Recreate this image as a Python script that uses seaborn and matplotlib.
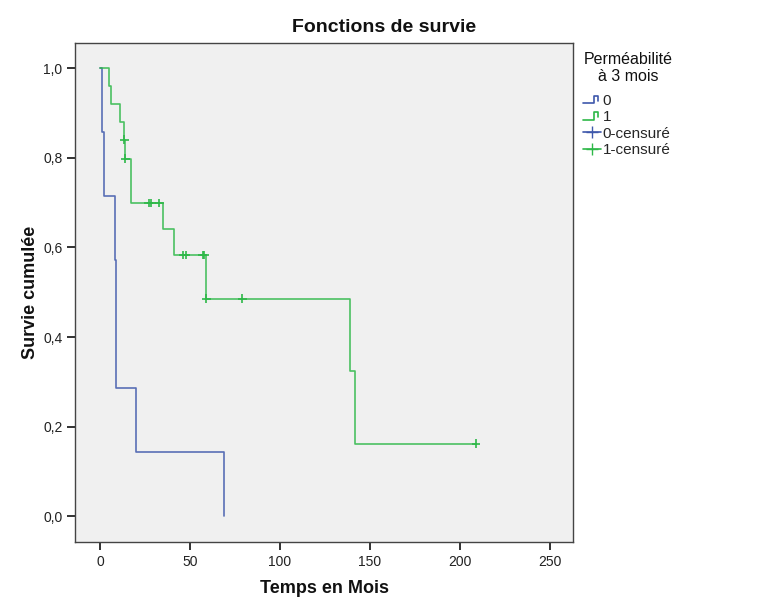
import numpy as np
import pandas as pd
import matplotlib
matplotlib.use("Agg")
import matplotlib.pyplot as plt
import seaborn as sns
from matplotlib.legend_handler import HandlerBase
from matplotlib.lines import Line2D
from matplotlib.ticker import FuncFormatter

# ---- data ----
times_0 = [0, 1, 2, 8, 9, 20, 69]
surv_0 = [1.0, 0.857, 0.714, 0.571, 0.286, 0.143, 0.0]

times_1 = [0, 5, 6, 11, 13, 14, 17, 35, 41, 59, 139, 142, 209]
surv_1 = [1.0, 0.96, 0.92, 0.88, 0.84, 0.798, 0.699, 0.641, 0.583, 0.486, 0.324, 0.162, 0.162]

cens_times_1 = [13.4, 14, 27, 28.5, 33, 46.3, 47.7, 57, 58, 59, 79, 209]
cens_surv_1 = [0.84, 0.798, 0.699, 0.699, 0.699, 0.583, 0.583, 0.583, 0.583, 0.486, 0.486, 0.162]

groups = ["0", "1"]
legend_labels = ["0", "1", "0-censuré", "1-censuré"]
x_ticks = [0, 50, 100, 150, 200, 250]
y_ticks = [0.0, 0.2, 0.4, 0.6, 0.8, 1.0]

title = "Fonctions de survie"
xlabel = "Temps en Mois"
ylabel = "Survie cumulée"
legend_title = "Perméabilité\nà 3 mois"

colors = {"0": "#3E58AC", "1": "#2EB848"}

# ---- build tables ----
steps = pd.concat([
    pd.DataFrame({"time": times_0, "surv": surv_0, "group": "0"}),
    pd.DataFrame({"time": times_1, "surv": surv_1, "group": "1"}),
], ignore_index=True)
cens = pd.DataFrame({"time": cens_times_1, "surv": cens_surv_1, "group": "1"})

sns.set_theme(style="ticks")
plt.rcParams["font.family"] = ["Liberation Sans", "DejaVu Sans"]

fig = plt.figure(figsize=(7.68, 6.15), dpi=100)
ax = fig.add_axes([75 / 768, 1 - 542 / 615, (573 - 75) / 768, (542 - 43) / 615])
ax.set_facecolor("#F0F0F0")

sns.lineplot(data=steps, x="time", y="surv", hue="group", palette=colors,
             drawstyle="steps-post", estimator=None, sort=False,
             linewidth=1.2, alpha=0.85, legend=False, ax=ax)
sns.scatterplot(data=cens, x="time", y="surv", hue="group", palette=colors,
                marker="+", s=40, linewidth=1.2, legend=False, ax=ax, zorder=3)

ax.set_xlim(-14, 263)
ax.set_ylim(-0.057, 1.056)
ax.set_xticks(x_ticks)
ax.set_yticks(y_ticks)
ax.yaxis.set_major_formatter(FuncFormatter(lambda v, p: f"{v:.1f}".replace(".", ",")))
ax.tick_params(axis="both", direction="out", length=6, width=1.3, color="#222222",
               labelsize=10, labelcolor="#222222", pad=3)
for sp in ax.spines.values():
    sp.set_visible(True)
    sp.set_color("#444444")
    sp.set_linewidth(1.0)

ax.set_xlabel(xlabel, fontsize=13, fontweight="bold", labelpad=8, color="#111111")
ax.set_ylabel(ylabel, fontsize=13, fontweight="bold", labelpad=3, color="#111111")
fig.text(384 / 768, 1 - 27 / 615, title, ha="center", va="center",
         fontsize=14, fontweight="bold", color="#111111")


class StepHandler(HandlerBase):
    def create_artists(self, legend, orig_handle, xdescent, ydescent,
                       width, height, fontsize, trans):
        xs = np.array([0.0, 0.6, 0.6, 0.85, 0.85]) * width - xdescent
        ys = np.array([0.15, 0.15, 0.85, 0.85, 0.4]) * height - ydescent
        ln = Line2D(xs, ys, color=orig_handle.get_color(), linewidth=1.2,
                    transform=trans)
        return [ln]


class StepKey(Line2D):
    pass


h0 = StepKey([], [], color=colors["0"])
h1 = StepKey([], [], color=colors["1"])
h2 = Line2D([], [], color=colors["0"], marker="+", markersize=8, linewidth=1.2)
h3 = Line2D([], [], color=colors["1"], marker="+", markersize=8, linewidth=1.2)

# legend title as centred text
fig.text(628 / 768, 1 - 68 / 615, legend_title, ha="center", va="center",
         fontsize=11.5, color="#111111", linespacing=1.1, multialignment="center")

leg = fig.legend([h0, h1, h2, h3], legend_labels, loc="upper left",
                 bbox_to_anchor=(583 / 768, 1 - 94 / 615), frameon=False,
                 fontsize=11, borderpad=0, borderaxespad=0,
                 handlelength=1.15, handletextpad=0.15, labelspacing=0.15,
                 handler_map={StepKey: StepHandler()})

fig.savefig("out.png", dpi=100, facecolor="white")
